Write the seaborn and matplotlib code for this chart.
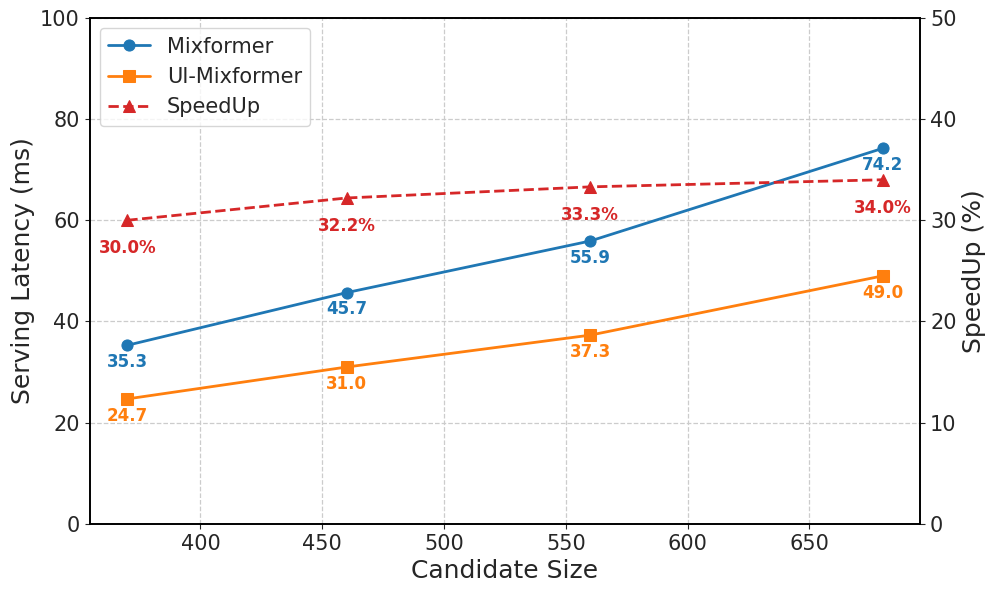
import matplotlib
matplotlib.use("Agg")
import seaborn as sns
import matplotlib.pyplot as plt

# data
candidate_size = [370, 460, 560, 680]
mixformer = [35.3, 45.7, 55.9, 74.2]
ui_mixformer = [24.7, 31.0, 37.3, 49.0]
speedup = [30.0, 32.2, 33.3, 34.0]

sns.set_style("ticks")
plt.rcParams["font.family"] = ["DejaVu Sans"]

blue, orange, red = "#1f77b4", "#ff7f0e", "#d62728"

fig, ax = plt.subplots(figsize=(9.96, 5.94), dpi=100)
ax2 = ax.twinx()

sns.lineplot(x=candidate_size, y=mixformer, ax=ax, color=blue, marker="o",
             markersize=8, linewidth=2, markeredgecolor=blue, label="Mixformer", legend=False)
sns.lineplot(x=candidate_size, y=ui_mixformer, ax=ax, color=orange, marker="s",
             markersize=8, linewidth=2, markeredgecolor=orange, label="UI-Mixformer", legend=False)
sns.lineplot(x=candidate_size, y=speedup, ax=ax2, color=red, marker="^",
             markersize=8, linewidth=2, linestyle="--", markeredgecolor=red,
             label="SpeedUp", legend=False)

for x, y in zip(candidate_size, mixformer):
    ax.annotate(f"{y:.1f}", (x, y), xytext=(0, -12), textcoords="offset points",
                ha="center", va="center", color=blue, fontsize=12, fontweight="bold")
for x, y in zip(candidate_size, ui_mixformer):
    ax.annotate(f"{y:.1f}", (x, y), xytext=(0, -12), textcoords="offset points",
                ha="center", va="center", color=orange, fontsize=12, fontweight="bold")
for x, y in zip(candidate_size, speedup):
    ax2.annotate(f"{y:.1f}%", (x, y), xytext=(0, -20), textcoords="offset points",
                 ha="center", va="center", color=red, fontsize=12, fontweight="bold")

ax.set_ylim(0, 100)
ax2.set_ylim(0, 50)
ax.set_xlabel("Candidate Size", fontsize=18)
ax.set_ylabel("Serving Latency (ms)", fontsize=18)
ax2.set_ylabel("SpeedUp (%)", fontsize=18)
ax.tick_params(labelsize=15)
ax2.tick_params(labelsize=15)
ax.grid(True, linestyle="--", color="#cccccc", linewidth=0.9)

for a in (ax, ax2):
    for s in a.spines.values():
        s.set_color("black")
        s.set_linewidth(1.2)

h1, l1 = ax.get_legend_handles_labels()
h2, l2 = ax2.get_legend_handles_labels()
ax.legend(h1 + h2, l1 + l2, loc="upper left", fontsize=15)

plt.subplots_adjust(left=0.09, right=0.924, top=0.97, bottom=0.118)
plt.savefig("out.png", dpi=100)
